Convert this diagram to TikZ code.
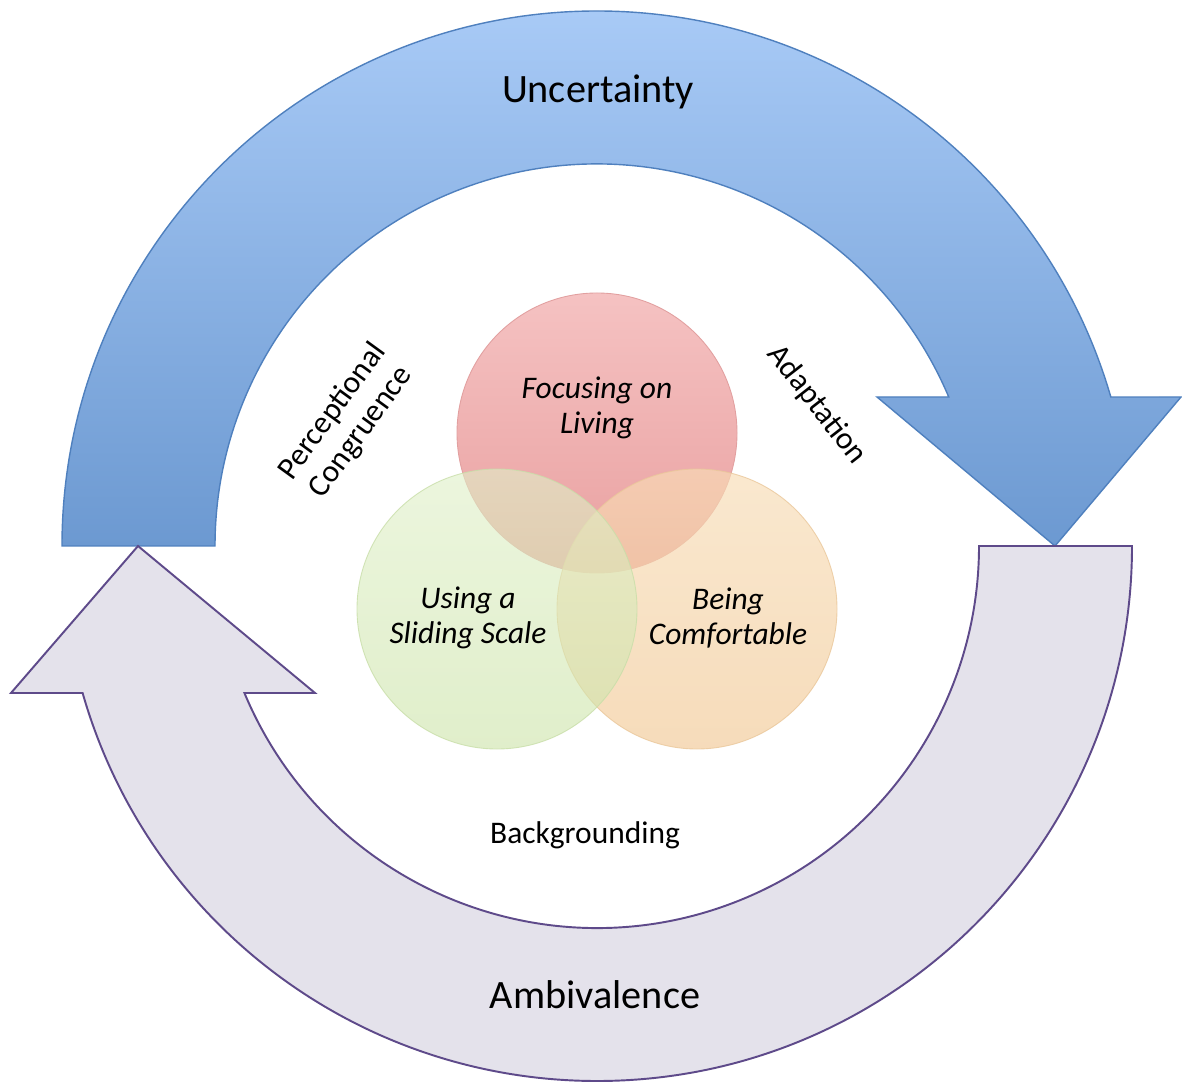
\documentclass[tikz,border=0pt]{standalone}
\usepackage{fontspec}
\setmainfont{Carlito}
\definecolor{bluetop}{HTML}{A8CAF6}
\definecolor{bluebot}{HTML}{6C99D1}
\definecolor{blueline}{HTML}{4F80BE}
\definecolor{grayfill}{HTML}{E4E2EB}
\definecolor{grayline}{HTML}{5E4A8A}
\definecolor{redtop}{HTML}{F5C2C2}
\definecolor{redbot}{HTML}{E9A0A0}
\definecolor{redline}{HTML}{E2A0A0}
\definecolor{orgtop}{HTML}{F8DDB6}
\definecolor{orgbot}{HTML}{F2C996}
\definecolor{orgline}{HTML}{EAC79A}
\definecolor{grntop}{HTML}{E0F0C8}
\definecolor{grnbot}{HTML}{CCE4A8}
\definecolor{grnline}{HTML}{C8DEA8}
\begin{document}
\begin{tikzpicture}[x=0.02cm,y=0.02cm,
  bluearrow/.style={shade, top color=bluetop, bottom color=bluebot, draw=blueline, line width=0.8pt, line join=miter},
  grayarrow/.style={fill=grayfill, draw=grayline, line width=1.1pt, line join=miter},
  bigtext/.style={font=\fontsize{22.9}{26}\selectfont, text=black, inner sep=0pt},
  smalltext/.style={font=\fontsize{17.9}{20}\selectfont, text=black, inner sep=0pt, align=center},
  circtext/.style={font=\fontsize{17.9}{20}\selectfont\itshape, text=black, inner sep=0pt, align=center},
  venn/.style={circle, minimum size=280*0.02cm, inner sep=0pt, line width=0.5pt}
]
\useasboundingbox (0,0) rectangle (1182,1082);
\fill[white] (0,0) rectangle (1182,1082);

\begin{scope}[shift={(597,536)}]
  % blue arrow (Uncertainty)
  \path[bluearrow] (180:535) arc[start angle=180, end angle=16.17, radius=535]
     -- (584,149) -- (458,0) -- (280,149) -- (22.96:382)
     arc[start angle=22.96, end angle=180, radius=382] -- cycle;
  % gray arrow (Ambivalence)
  \path[grayarrow] (0:535) arc[start angle=0, end angle=-164.05, radius=535]
     -- (-586,-147) -- (-459,0) -- (-282,-147) -- (-157.37:382)
     arc[start angle=-157.37, end angle=0, radius=382] -- cycle;
\end{scope}

% Venn circles
\node[venn, shade, top color=redtop, bottom color=redbot, draw=redline] (red) at (597,649) {};
\node[venn, shade, top color=orgtop, bottom color=orgbot, draw=orgline, fill opacity=0.65, draw opacity=0.8] (orange) at (697,473) {};
\node[venn, shade, top color=grntop, bottom color=grnbot, draw=grnline, fill opacity=0.6, draw opacity=0.8] (green) at (497,473) {};

% circle labels
\node[circtext] (focus) at (597,674) {Focusing on\\Living};
\node[circtext] (slide) at (468,464) {Using a\\Sliding Scale};
\node[circtext] (comf) at (728,464) {Being\\Comfortable};

% arrow labels
\node[bigtext, anchor=base] (unc) at (598,979) {Uncertainty};
\node[bigtext, anchor=base] (amb) at (595,74) {Ambivalence};

% process labels
\node[smalltext, anchor=base] (back) at (585,239) {Backgrounding};
\node[smalltext, rotate=54] (perc) at (347,660) {Perceptional\\Congruence};
\node[smalltext, rotate=-52] (adapt) at (817,677) {Adaptation};
\end{tikzpicture}
\end{document}
